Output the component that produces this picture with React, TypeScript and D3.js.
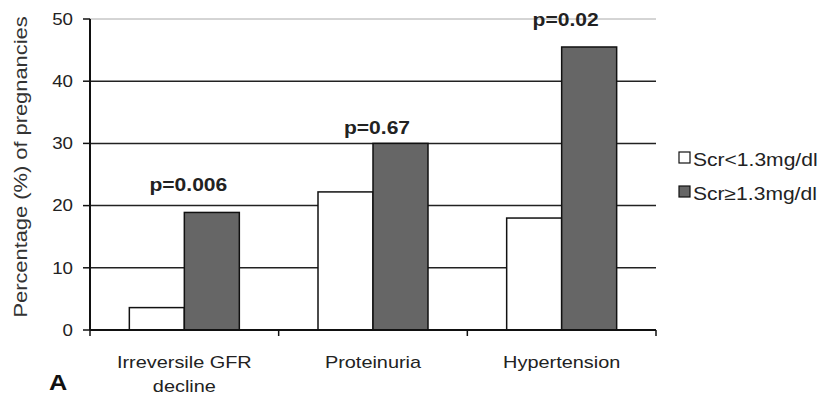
import React from "react";
import * as d3 from "d3";

const categories = ["Irreversile GFR decline", "Proteinuria", "Hypertension"];
const categoryLines = [["Irreversile GFR", "decline"], ["Proteinuria"], ["Hypertension"]];
const seriesNames = ["Scr<1.3mg/dl", "Scr≥1.3mg/dl"];
const lowScr = [3.6, 22.2, 18];
const highScr = [18.9, 30, 45.5];
const pLabels = ["p=0.006", "p=0.67", "p=0.02"];
const pLabelValue = [22.3, 31.5, 48.9];
const yTicks = [0, 10, 20, 30, 40, 50];

const W = 824, H = 396;
const left = 90, right = 656, top = 19, bottom = 330;
const font = "Arial, 'Liberation Sans', sans-serif";
const fills = ["#ffffff", "#666666"];
const S = 1.17;

export default function App() {
  const x = d3.scaleBand<string>().domain(categories).range([left, right]).paddingInner(0.417).paddingOuter(0.2085);
  const x1 = d3.scaleBand<number>().domain([0, 1]).range([0, x.bandwidth()]);
  const y = d3.scaleLinear().domain([0, 50]).range([bottom, top]);
  const step = x.step();
  const series = [lowScr, highScr];
  return (
    <svg width={W} height={H} style={{ position: "absolute", left: 0, top: 0, background: "#fff" }} fontFamily={font}>
      {yTicks.map((t) => (
        <line key={"g" + t} x1={left} x2={right} y1={y(t)} y2={y(t)} stroke={t === 50 ? "#aaa" : "#222"} strokeWidth={t === 50 ? 1 : 1.5} />
      ))}
      {categories.map((c, i) =>
        series.map((s, j) => (
          <rect key={c + j} x={x(c)! + x1(j)!} y={y(s[i])} width={x1.bandwidth()} height={bottom - y(s[i])} fill={fills[j]} stroke="#111" strokeWidth={1.5} />
        ))
      )}
      <line x1={left} x2={left} y1={top} y2={bottom} stroke="#111" strokeWidth={2} />
      <line x1={left} x2={right} y1={bottom} y2={bottom} stroke="#111" strokeWidth={2} />
      {yTicks.map((t) => (
        <g key={"t" + t}>
          <line x1={left - 7} x2={left} y1={y(t)} y2={y(t)} stroke="#111" strokeWidth={1.5} />
          <text transform={`translate(73,${y(t)}) scale(${S},1)`} dy="0.36em" textAnchor="end" fontSize={16} fill="#222">{t}</text>
        </g>
      ))}
      {d3.range(categories.length + 1).map((i) => (
        <line key={"xt" + i} x1={left + i * step} x2={left + i * step} y1={bottom} y2={bottom + 6} stroke="#111" strokeWidth={1.5} />
      ))}
      {categories.map((c, i) =>
        categoryLines[i].map((l, k) => (
          <text key={"xl" + c + k} transform={`translate(${x(c)! + x.bandwidth() / 2},${368 + k * 24}) scale(${S},1)`} textAnchor="middle" fontSize={17} fill="#222">{l}</text>
        ))
      )}
      {categories.map((c, i) => (
        <text key={"p" + c} transform={`translate(${x(c)! + x.bandwidth() / 2 + 4},${y(pLabelValue[i])}) scale(${S},1)`} textAnchor="middle" fontSize={18} fontWeight="bold" fill="#222">{pLabels[i]}</text>
      ))}
      <text transform={`translate(27,167) rotate(-90) scale(1.15,1)`} textAnchor="middle" fontSize={19} fill="#333">Percentage (%) of pregnancies</text>
      <text transform={`translate(49,390) scale(1.15,1)`} fontSize={22} fontWeight="bold" fill="#111">A</text>
      {seriesNames.map((n, j) => (
        <g key={n}>
          <rect x={679} y={152 + j * 34} width={11} height={11} fill={fills[j]} stroke="#111" strokeWidth={1.2} />
          <text transform={`translate(693,${166 + j * 34}) scale(${S},1)`} fontSize={18} fill="#222">{n}</text>
        </g>
      ))}
    </svg>
  );
}
